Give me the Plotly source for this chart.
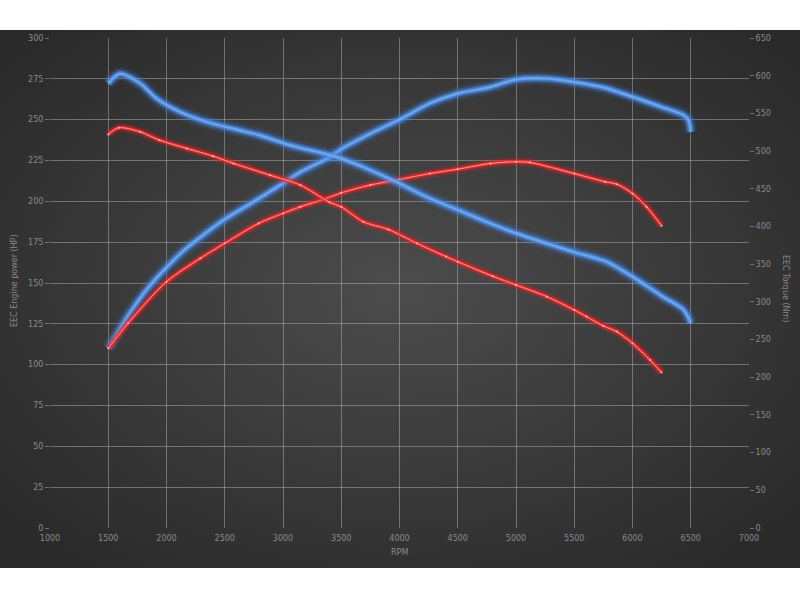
import base64
import plotly.graph_objects as go

# ---- data ----
rpm_power_blue = [1500, 1670, 1830, 2000, 2150, 2290, 2500, 2720, 3000, 3150, 3400, 3500, 3750, 4000, 4260,
                  4500, 4780, 5000, 5260, 5500, 5750, 6000, 6240, 6440, 6480, 6500]
power_blue = [110, 130, 146, 159.5, 170, 178, 189, 198.5, 211, 218, 227, 232, 241.5, 250, 260,
              266, 270, 274.6, 275.2, 273, 269.7, 264, 258, 252.7, 249.7, 242.5]

rpm_torque_blue = [1500, 1600, 1775, 1915, 2115, 2345, 2600, 2800, 3060, 3350, 3500, 3750, 4000, 4260,
                   4500, 4780, 5000, 5500, 5780, 6000, 6260, 6440, 6500]
torque_blue = [589.6, 602.5, 589.6, 569.7, 552, 538.7, 528.6, 521, 507.8, 496.8, 490.2, 474.7, 457, 437.2,
               422, 404, 391, 366, 353, 333.4, 306.9, 289.2, 271.6]

rpm_power_red = [1500, 1670, 2000, 2290, 2500, 2790, 3000, 3150, 3375, 3500, 3750, 4000, 4260, 4500,
                 4780, 5000, 5120, 5500, 5765, 5865, 6000, 6120, 6250]
power_red = [110, 125.4, 150.8, 165.1, 174.3, 186.5, 192.6, 196.7, 201.8, 205.2, 210, 213.4, 217, 219.7,
             223.2, 224.2, 223.8, 217, 212, 210.5, 204.8, 196.7, 185]

rpm_torque_red = [1500, 1590, 1775, 1940, 2175, 2400, 2575, 2890, 3150, 3400, 3500, 3690, 3905, 4150,
                  4400, 4500, 4800, 5000, 5265, 5500, 5605, 5750, 5865, 6000, 6150, 6250]
torque_red = [522, 531, 525.5, 514.5, 503.5, 493.3, 483.6, 468, 454.8, 432, 426, 406.2, 396, 377.6,
              360, 353.2, 334, 322.4, 306.9, 289.2, 280.4, 268, 260.5, 245.1, 223, 206.2]

x_ticks = [1000, 1500, 2000, 2500, 3000, 3500, 4000, 4500, 5000, 5500, 6000, 6500, 7000]
left_ticks = list(range(0, 301, 25))
right_ticks = list(range(0, 651, 50))

# ---- styling ----
blue_layers = [(14, "rgba(60,130,235,0.12)"), (9.5, "rgba(65,135,235,0.26)"),
               (6, "rgba(72,140,230,0.7)"), (2.5, "rgba(115,170,240,0.85)")]
red_layers = [(10, "rgba(225,25,25,0.15)"), (6, "rgba(230,35,35,0.4)"),
              (3, "rgba(235,45,45,0.95)"), (1, "rgba(255,160,160,0.9)")]

fig = go.Figure()


def add_glow(x, y, layers, yaxis, markers=False):
    for i, (w, c) in enumerate(layers):
        last = i == len(layers) - 1
        fig.add_trace(go.Scatter(
            x=x, y=y, yaxis=yaxis,
            mode="lines+markers" if (markers and last) else "lines",
            line=dict(color=c, width=w, shape="spline", smoothing=0.8),
            marker=dict(size=2, color="rgba(255,200,200,0.9)") if (markers and last) else None,
            hoverinfo="skip", showlegend=False))


add_glow(rpm_power_blue, power_blue, blue_layers, "y")
add_glow(rpm_torque_blue, torque_blue, blue_layers, "y2")
add_glow(rpm_power_red, power_red, red_layers, "y", markers=True)
add_glow(rpm_torque_red, torque_red, red_layers, "y2", markers=True)

svg = ('<svg xmlns="http://www.w3.org/2000/svg" width="800" height="538" preserveAspectRatio="none">'
       '<defs><radialGradient id="g" cx="50%" cy="48%" r="65%">'
       '<stop offset="0%" stop-color="#4c4c4c"/><stop offset="100%" stop-color="#2a2a2a"/>'
       '</radialGradient></defs><rect width="800" height="538" fill="url(#g)"/></svg>')
src = "data:image/svg+xml;base64," + base64.b64encode(svg.encode()).decode()

L, R, T, B = 50, 51, 38, 72
pw, ph = 800 - L - R, 600 - T - B


def px2x(px):
    return (px - L) / pw


def py2y(py):
    return (600 - B - py) / ph


grid = "rgba(200,200,200,0.42)"
tickc = "#8a8a8a"
font = dict(family="DejaVu Sans, Verdana, sans-serif", size=8, color=tickc)

fig.update_layout(
    width=800, height=600,
    margin=dict(l=L, r=R, t=T, b=B, pad=0),
    paper_bgcolor="white",
    plot_bgcolor="rgba(0,0,0,0)",
    font=font,
    showlegend=False,
    images=[dict(source=src, xref="paper", yref="paper",
                 x=px2x(0), y=py2y(30), sizex=px2x(800) - px2x(0), sizey=py2y(30) - py2y(568),
                 xanchor="left", yanchor="top", sizing="stretch", layer="below")],
    xaxis=dict(range=[1000, 7000], tickvals=x_ticks, ticktext=[str(v) for v in x_ticks],
               showgrid=True, gridcolor=grid, gridwidth=1, zeroline=False,
               showline=False, ticks="", tickfont=font, ticklabelstandoff=4),
    yaxis=dict(range=[0, 300], tickvals=left_ticks, ticktext=[str(v) for v in left_ticks],
               showgrid=True, gridcolor=grid, gridwidth=1, zeroline=False,
               showline=False, ticks="outside", ticklen=4, tickcolor=grid, tickfont=font),
    yaxis2=dict(range=[0, 650], tickvals=right_ticks, ticktext=[str(v) for v in right_ticks],
                overlaying="y", side="right", showgrid=False, zeroline=False,
                showline=False, ticks="outside", ticklen=4, tickcolor=grid, tickfont=font),
    annotations=[
        dict(text="RPM", xref="paper", yref="paper", x=0.5, y=py2y(552), yanchor="middle",
             xanchor="center", showarrow=False,
             font=dict(family=font["family"], size=8, color=tickc)),
        dict(text="EEC Engine power (HP)", xref="paper", yref="paper", x=px2x(14), y=py2y(281),
             xanchor="center", yanchor="middle",
             textangle=-90, showarrow=False, font=dict(family=font["family"], size=8, color=tickc)),
        dict(text="EEC Torque (Nm)", xref="paper", yref="paper", x=px2x(786), y=py2y(288),
             xanchor="center", yanchor="middle",
             textangle=90, showarrow=False, font=dict(family=font["family"], size=8, color=tickc)),
    ],
)

fig.write_html("out.html", config={"displayModeBar": False},
               post_script="document.body.style.margin='0';document.body.style.overflow='hidden';")
